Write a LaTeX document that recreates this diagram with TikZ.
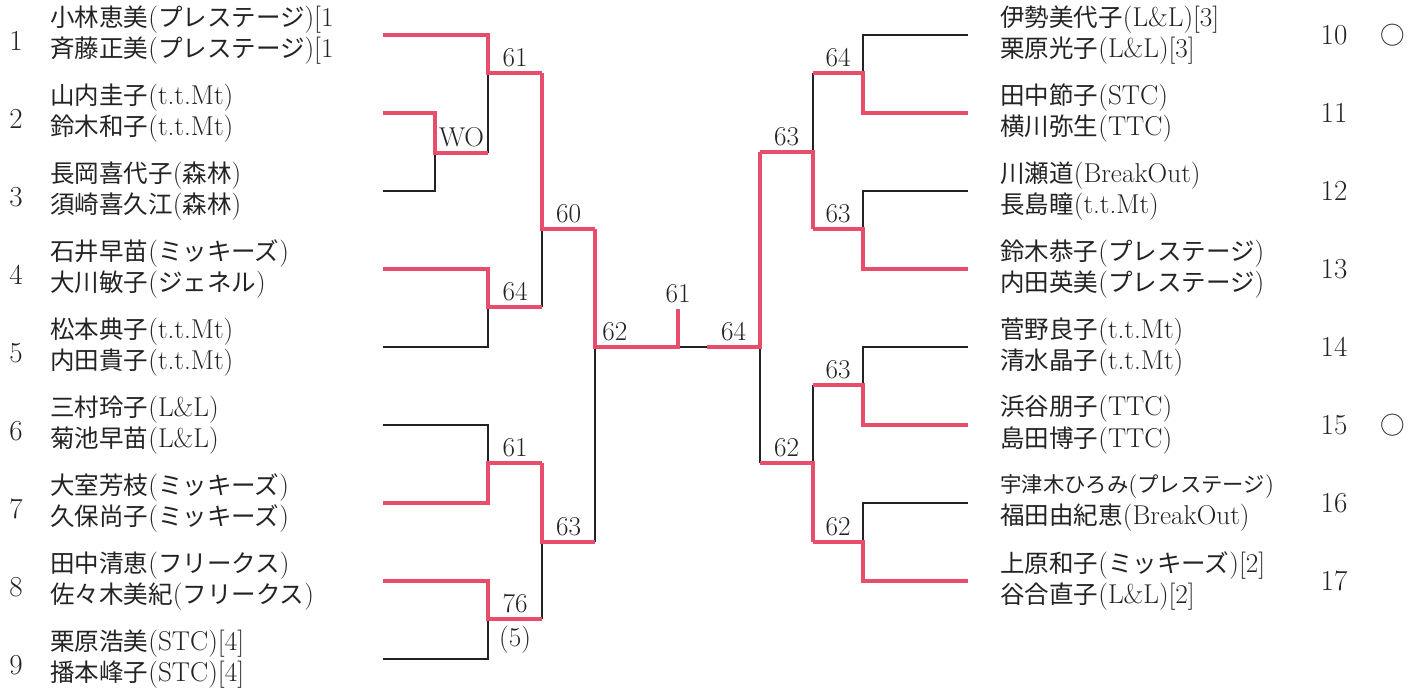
\documentclass[tikz,border=0pt]{standalone}
\usepackage{fontspec}
\newfontfamily\jpfont{Noto Sans CJK JP}[Scale=0.9]
\newcommand{\jn}[1]{{\jpfont #1}}
\definecolor{winred}{RGB}{232,78,108}
\definecolor{ink}{RGB}{35,35,35}

\begin{document}
\begin{tikzpicture}[x=0.02cm, y=-0.02cm,
                   every node/.style={text=ink, font=\fontsize{15.5}{18}\selectfont},
                   player/.style={anchor=west, align=left, inner sep=0pt},
                   seednum/.style={inner sep=0pt, font=\fontsize{16.5}{18}\selectfont},
                   score/.style={above, inner sep=2.5pt},
                   lost/.style={draw=ink, line width=1.1pt},
                   won/.style={draw=winred, line width=2.2pt}]

\useasboundingbox (0,0) rectangle (1416,693);

\foreach \i in {1,...,9} {
	\coordinate (a\i) at (383, {35+78*(\i-1)});
	\node[seednum] (n\i) at (16, {41+78*(\i-1)}) {\i};
}
\foreach \i in {10,...,17} {
	\coordinate (b\i) at (968, {35+78*(\i-10)});
	\node[seednum] (n\i) at (1334, {35+78*(\i-10)}) {\i};
}

\node[player] (p1) at (50,35) {\jn{小林恵美}(\jn{プレステージ})[1\\\jn{斉藤正美}(\jn{プレステージ})[1};
\node[player] (p2) at (50,113) {\jn{山内圭子}(t.t.Mt)\\\jn{鈴木和子}(t.t.Mt)};
\node[player] (p3) at (50,191) {\jn{長岡喜代子}(\jn{森林})\\\jn{須崎喜久江}(\jn{森林})};
\node[player] (p4) at (50,269) {\jn{石井早苗}(\jn{ミッキーズ})\\\jn{大川敏子}(\jn{ジェネル})};
\node[player] (p5) at (50,347) {\jn{松本典子}(t.t.Mt)\\\jn{内田貴子}(t.t.Mt)};
\node[player] (p6) at (50,425) {\jn{三村玲子}(L\&L)\\\jn{菊池早苗}(L\&L)};
\node[player] (p7) at (50,503) {\jn{大室芳枝}(\jn{ミッキーズ})\\\jn{久保尚子}(\jn{ミッキーズ})};
\node[player] (p8) at (50,581) {\jn{田中清恵}(\jn{フリークス})\\\jn{佐々木美紀}(\jn{フリークス})};
\node[player] (p9) at (50,659) {\jn{栗原浩美}(STC)[4]\\\jn{播本峰子}(STC)[4]};

\node[player] (p10) at (1000,35) {\jn{伊勢美代子}(L\&L)[3]\\\jn{栗原光子}(L\&L)[3]};
\node[player] (p11) at (1000,113) {\jn{田中節子}(STC)\\\jn{横川弥生}(TTC)};
\node[player] (p12) at (1000,191) {\jn{川瀬道}(BreakOut)\\\jn{長島瞳}(t.t.Mt)};
\node[player] (p13) at (1000,269) {\jn{鈴木恭子}(\jn{プレステージ})\\\jn{内田英美}(\jn{プレステージ})};
\node[player] (p14) at (1000,347) {\jn{菅野良子}(t.t.Mt)\\\jn{清水晶子}(t.t.Mt)};
\node[player] (p15) at (1000,425) {\jn{浜谷朋子}(TTC)\\\jn{島田博子}(TTC)};
\node[player] (p16) at (1000,503) {{\fontsize{13.5}{18}\selectfont\jn{宇津木ひろみ}(\jn{プレステージ})}\\\jn{福田由紀恵}(BreakOut)};
\node[player] (p17) at (1000,581) {\jn{上原和子}(\jn{ミッキーズ})[2]\\\jn{谷合直子}(L\&L)[2]};

\node (c10) at (1393,35) {\jn{○}};
\node (c15) at (1393,425) {\jn{○}};

\coordinate (w23) at (435,153);
\coordinate (w1) at (488,73);
\coordinate (w45) at (488,307);
\coordinate (wA) at (542,229);
\coordinate (w67) at (488,463);
\coordinate (w89) at (488,619);
\coordinate (wB) at (542,542);
\coordinate (wL) at (595,347);
\coordinate (fin) at (678,347);
\coordinate (top) at (678,309);
\coordinate (mid) at (707,347);
\coordinate (wR) at (760,347);
\coordinate (x1011) at (863,73);
\coordinate (x1213) at (863,229);
\coordinate (xU) at (813,152);
\coordinate (x1415) at (863,385);
\coordinate (x1617) at (863,542);
\coordinate (xD) at (813,463);

% losers
\draw[lost] (a3) -| (w23);
\draw[lost] (w23 -| w1) -- (w1);
\draw[lost] (a5) -| (w45);
\draw[lost] (w45 -| wA) -- (wA);
\draw[lost] (a6) -| (w67);
\draw[lost] (a9) -| (w89);
\draw[lost] (w89 -| wB) -- (wB);
\draw[lost] (wB -| wL) -- (wL);
\draw[lost] (fin) -- (mid);
\draw[lost] (b10) -| (x1011);
\draw[lost] (b12) -| (x1213);
\draw[lost] (x1011 -| xU) -- (xU);
\draw[lost] (b14) -| (x1415);
\draw[lost] (b16) -| (x1617);
\draw[lost] (x1415 -| xD) -- (xD);
\draw[lost] (xD -| wR) -- (wR);

% winners
\draw[won] (a2) -| (w23) -- node[score]{WO} (w23 -| w1);
\draw[won] (a1) -| (w1) -- node[score]{61} (w1 -| wA);
\draw[won] (a4) -| (w45) -- node[score]{64} (w45 -| wA);
\draw[won] (w1 -| wA) -- (wA) -- node[score]{60} (wA -| wL);
\draw[won] (a7) -| (w67) -- node[score]{61} (w67 -| wB);
\draw[won] (a8) -| (w89) -- node[score]{76} node[below, inner sep=3pt]{(5)} (w89 -| wB);
\draw[won] (w67 -| wB) -- (wB) -- node[score]{63} (wB -| wL);
\draw[won] (wA -| wL) -- (wL) -- node[score, pos=0.24]{62} (fin) -- (top) node[score]{61};

\draw[won] (b11) -| (x1011) -- node[score]{64} (x1011 -| xU);
\draw[won] (b13) -| (x1213) -- node[score]{63} (x1213 -| xU);
\draw[won] (x1213 -| xU) -- (xU) -- node[score]{63} (xU -| wR);
\draw[won] (b15) -| (x1415) -- node[score]{63} (x1415 -| xD);
\draw[won] (b17) -| (x1617) -- node[score]{62} (x1617 -| xD);
\draw[won] (x1617 -| xD) -- (xD) -- node[score]{62} (xD -| wR);
\draw[won] (xU -| wR) -- (wR) -- node[score]{64} (mid);

\end{tikzpicture}
\end{document}
